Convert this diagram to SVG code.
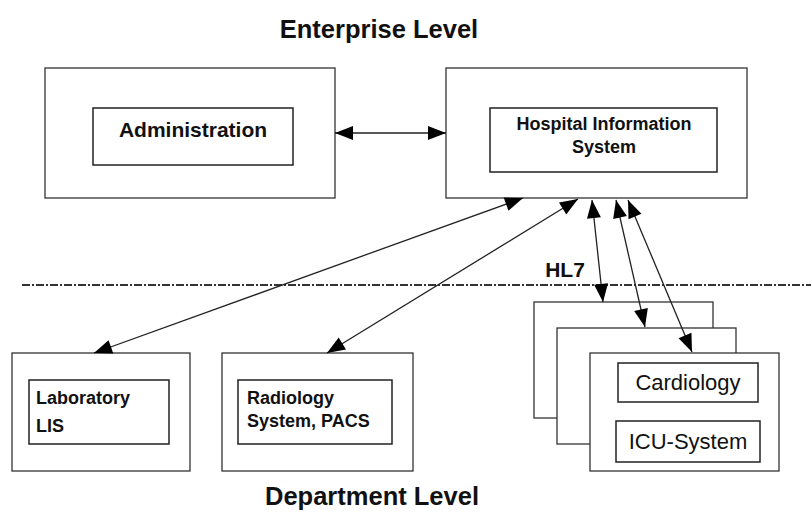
<svg xmlns="http://www.w3.org/2000/svg" width="811" height="512" viewBox="0 0 811 512">
  <style>
    .frame { fill: #fff; stroke: #333; stroke-width: 1.3; }
    .inner { fill: #fff; stroke: #222; stroke-width: 1.5; }
    .bold { font-family: "Liberation Sans", Arial, sans-serif; font-weight: bold; fill: #111; }
    .reg { font-family: "Liberation Sans", Arial, sans-serif; fill: #111; }
    .link { stroke: #222; stroke-width: 1.3; fill: none; marker-start: url(#head); marker-end: url(#head); }
  </style>
  <defs>
    <marker id="head" markerUnits="userSpaceOnUse" markerWidth="19" markerHeight="15" refX="18" refY="7" orient="auto-start-reverse" overflow="visible">
      <path d="M0,0 L18,7 L0,14 z" fill="#000"/>
    </marker>
  </defs>

  <rect width="811" height="512" fill="#fff"/>

  <!-- level titles -->
  <text class="bold" x="379" y="38" font-size="25.5" text-anchor="middle">Enterprise Level</text>
  <text class="bold" x="372" y="505" font-size="25.5" text-anchor="middle">Department Level</text>

  <!-- boundary between enterprise and department level -->
  <line x1="22" y1="285" x2="811" y2="285" stroke="#333" stroke-width="2" stroke-dasharray="8,2,2,2"/>
  <text class="bold" x="565" y="277" font-size="21" text-anchor="middle">HL7</text>

  <g id="administration">
    <rect class="frame" x="45" y="68" width="290" height="130"/>
    <rect class="inner" x="93" y="108" width="200" height="57"/>
    <text class="bold" x="193" y="137" font-size="21" text-anchor="middle">Administration</text>
  </g>

  <g id="his">
    <rect class="frame" x="446" y="68" width="301" height="130"/>
    <rect class="inner" x="490" y="108" width="227" height="64"/>
    <text class="bold" x="604" y="130" font-size="18" text-anchor="middle">Hospital Information</text>
    <text class="bold" x="604" y="153" font-size="18" text-anchor="middle">System</text>
  </g>

  <g id="laboratory">
    <rect class="frame" x="12" y="353" width="178" height="118"/>
    <rect class="inner" x="29" y="380" width="140" height="64"/>
    <text class="bold" x="36" y="404" font-size="18">Laboratory</text>
    <text class="bold" x="36" y="432" font-size="18">LIS</text>
  </g>

  <g id="radiology">
    <rect class="frame" x="222" y="353" width="191" height="118"/>
    <rect class="inner" x="238" y="380" width="154" height="64"/>
    <text class="bold" x="247" y="404" font-size="18">Radiology</text>
    <text class="bold" x="247" y="427" font-size="18">System, PACS</text>
  </g>

  <g id="department-stack">
    <rect class="frame" x="534" y="302" width="179" height="116"/>
    <rect class="frame" x="557" y="328" width="179" height="116"/>
    <rect class="frame" x="590" y="353" width="189" height="118"/>
    <rect class="inner" x="618" y="363" width="140" height="39"/>
    <text class="reg" x="688" y="390" font-size="22" text-anchor="middle">Cardiology</text>
    <rect class="inner" x="616" y="421" width="144" height="41"/>
    <text class="reg" x="688" y="449" font-size="22" text-anchor="middle">ICU-System</text>
  </g>

  <g id="connectors">
    <line class="link" x1="335" y1="133" x2="446" y2="133" stroke-width="2"/>
    <line class="link" x1="523" y1="198" x2="94" y2="353"/>
    <line class="link" x1="578" y1="199" x2="327" y2="353"/>
    <line class="link" x1="592" y1="200" x2="603" y2="302"/>
    <line class="link" x1="616" y1="200" x2="645" y2="327"/>
    <line class="link" x1="628" y1="200" x2="692" y2="352"/>
  </g>
</svg>
